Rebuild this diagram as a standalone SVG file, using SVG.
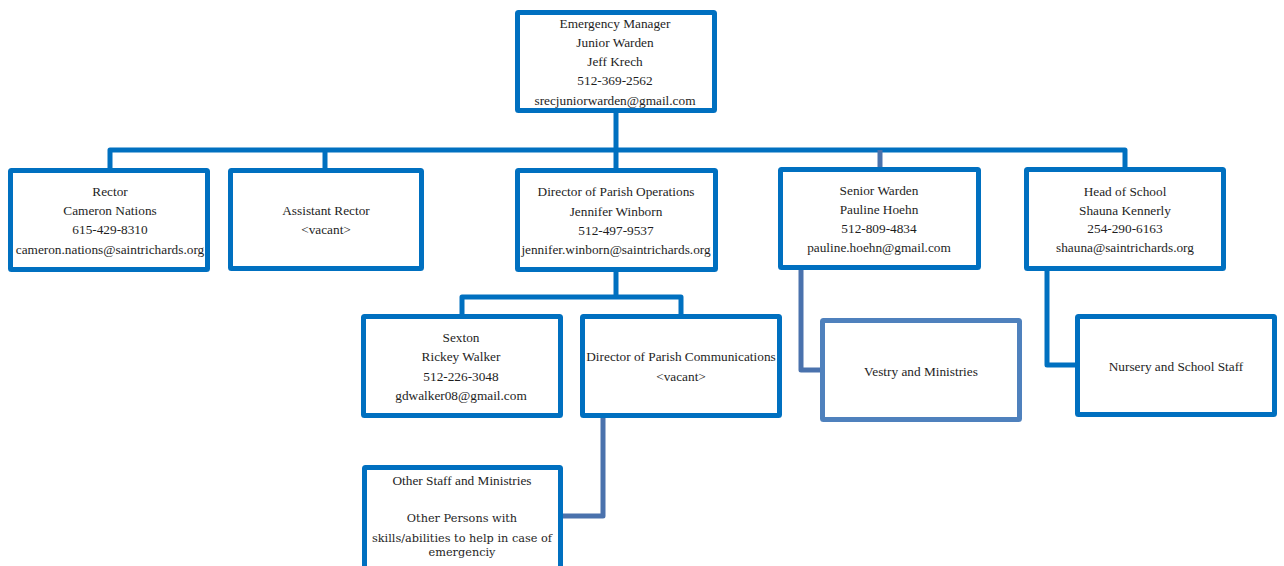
<svg xmlns="http://www.w3.org/2000/svg" width="1284" height="566" viewBox="0 0 1284 566">
<style>
.box{fill:#fff;stroke:#0070c0;stroke-width:5;}
.box2{fill:#fff;stroke:#4f81bd;stroke-width:5;}
.c{fill:none;stroke:#0070c0;stroke-width:5;stroke-linejoin:round;}
.g{fill:none;stroke:#4a72ad;stroke-width:5;stroke-linejoin:round;}
text{font-family:"Liberation Serif","Times New Roman",serif;font-size:13.3px;fill:#1e1e1e;text-anchor:middle;dominant-baseline:central;}
.alt{font-family:"DejaVu Serif","Liberation Serif",serif;font-size:11.3px;}
</style>
<rect width="1284" height="566" fill="#fff"/>
<g id="connectors">
<path class="c" d="M616 113V170"/>
<path class="c" d="M110 170V150H1125V167"/>
<path class="c" d="M325 150V170"/>
<path class="g" d="M880 150V167"/>
<path class="c" d="M616 272V297"/>
<path class="c" d="M462 314V297H681V314"/>
<path class="g" d="M801 270V370H820"/>
<path class="c" d="M1047 271V365H1075"/>
<path class="g" d="M603 418V516H563"/>
</g>
<g id="emergency-manager">
<rect class="box" x="517.5" y="12.5" width="197" height="98" rx="1"/>
<text x="615" y="23">Emergency Manager</text>
<text x="615" y="42">Junior Warden</text>
<text x="615" y="61">Jeff Krech</text>
<text x="615" y="80">512-369-2562</text>
<text x="615" y="100">srecjuniorwarden@gmail.com</text>
</g>
<g id="rector">
<rect class="box" x="10.5" y="170.5" width="197" height="99" rx="1"/>
<text x="110" y="191">Rector</text>
<text x="110" y="210">Cameron Nations</text>
<text x="110" y="229">615-429-8310</text>
<text x="110" y="249">cameron.nations@saintrichards.org</text>
</g>
<g id="assistant-rector">
<rect class="box" x="230.5" y="170.5" width="191" height="98" rx="1"/>
<text x="326" y="210">Assistant Rector</text>
<text x="326" y="229">&lt;vacant&gt;</text>
</g>
<g id="director-operations">
<rect class="box" x="517.5" y="170.5" width="198" height="99" rx="1"/>
<text x="616" y="191">Director of Parish Operations</text>
<text x="616" y="211">Jennifer Winborn</text>
<text x="616" y="230">512-497-9537</text>
<text x="616" y="249">jennifer.winborn@saintrichards.org</text>
</g>
<g id="senior-warden">
<rect class="box" x="780.5" y="169.5" width="198" height="98" rx="1"/>
<text x="879" y="190">Senior Warden</text>
<text x="879" y="209">Pauline Hoehn</text>
<text x="879" y="228">512-809-4834</text>
<text x="879" y="247">pauline.hoehn@gmail.com</text>
</g>
<g id="head-of-school">
<rect class="box" x="1026.5" y="169.5" width="197" height="99" rx="1"/>
<text x="1125" y="191">Head of School</text>
<text x="1125" y="210">Shauna Kennerly</text>
<text x="1125" y="228">254-290-6163</text>
<text x="1125" y="247">shauna@saintrichards.org</text>
</g>
<g id="sexton">
<rect class="box" x="363.5" y="316.5" width="197" height="99" rx="1"/>
<text x="461" y="337">Sexton</text>
<text x="461" y="356">Rickey Walker</text>
<text x="461" y="376">512-226-3048</text>
<text x="461" y="395">gdwalker08@gmail.com</text>
</g>
<g id="director-communications">
<rect class="box" x="582.5" y="316.5" width="197" height="99" rx="1"/>
<text x="681" y="356">Director of Parish Communications</text>
<text x="681" y="376">&lt;vacant&gt;</text>
</g>
<g id="vestry">
<rect class="box2" x="822.5" y="320.5" width="197" height="99" rx="1"/>
<text x="921" y="371">Vestry and Ministries</text>
</g>
<g id="nursery">
<rect class="box" x="1077.5" y="316.5" width="197" height="98" rx="1"/>
<text x="1176" y="366">Nursery and School Staff</text>
</g>
<g id="other-staff">
<rect class="box" x="364.5" y="467.5" width="196" height="105" rx="1"/>
<text x="462" y="480">Other Staff and Ministries</text>
<text class="alt" x="462" y="518">Other Persons with</text>
<text class="alt" x="462" y="538">skills/abilities to help in case of</text>
<text class="alt" x="462" y="552">emergenciy</text>
</g>
</svg>
